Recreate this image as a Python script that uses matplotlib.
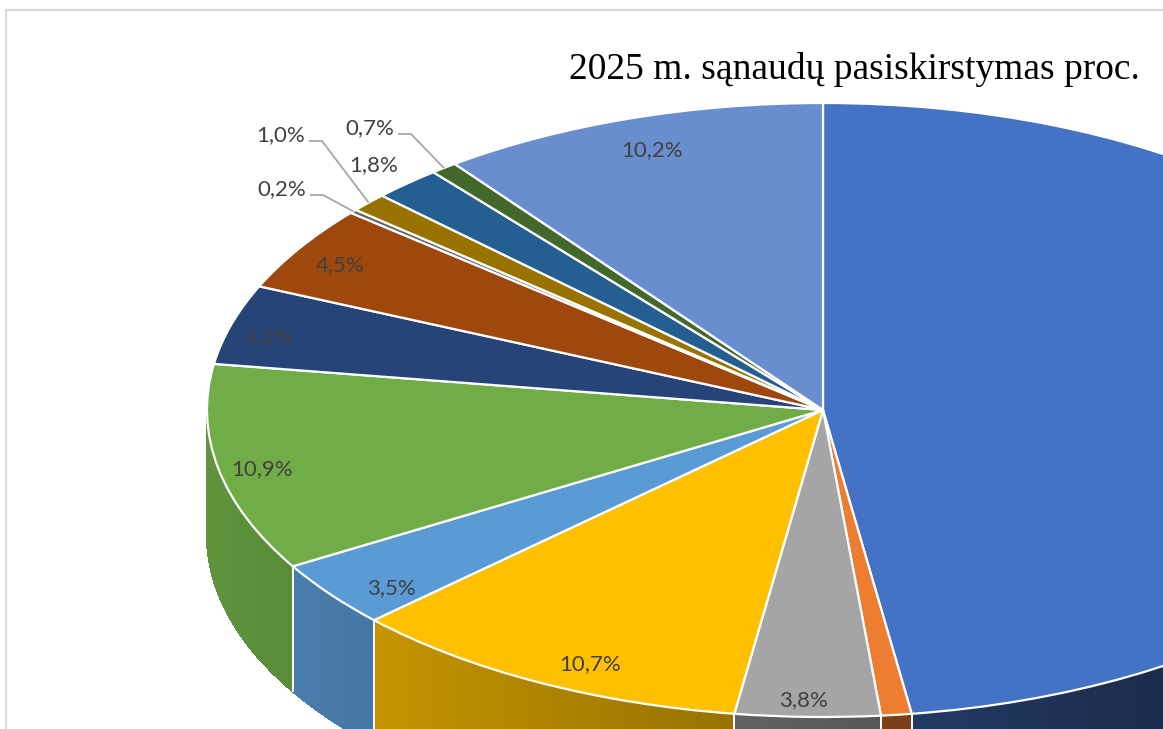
import numpy as np
import matplotlib
matplotlib.use("Agg")
import matplotlib.pyplot as plt
from matplotlib.patches import Polygon
from matplotlib.colors import to_rgb

# ---------------- data ----------------
title = "2025 m. sąnaudų pasiskirstymas proc."
shares = [47.7, 0.8, 3.8, 10.7, 3.5, 10.9, 4.2, 4.5, 0.2, 1.0, 1.8, 0.7, 10.2]
colors = ["#4472C4", "#ED7D31", "#A5A5A5", "#FFC000", "#5B9BD5", "#70AD47",
          "#264478", "#9E480E", "#636363", "#997300", "#255E91", "#43682B",
          "#698ED0"]

# ---------------- layout (pixels) ----------------
W, H = 1163, 729
cx, cy = 823, 410          # pie centre
rx, ry = 616, 307          # ellipse radii of top face
depth = 125                # side wall height
# slice index -> (radial factor, angular nudge in degrees)
inside_pos = {2: (0.945, 0.5), 3: (0.91, -3.0), 4: (0.91, -2.7), 5: (0.93, -0.9),
              6: (0.93, -1.4), 7: (0.915, -0.9), 10: (1.08, 0.0), 12: (0.89, 0.2)}
callout_pos = {8: (282, 189), 9: (281, 135), 11: (370, 128)}
label_font = dict(family="Lato", size=16, color="#404040")

fig = plt.figure(figsize=(W / 100, H / 100), dpi=100)
ax = fig.add_axes([0, 0, 1, 1])

def px2d(px, py):
    return (px - cx) / rx, (cy - py) / ry

# ---- top face via pie ----
wedges, _ = ax.pie(shares, colors=colors, startangle=90, counterclock=False,
                   radius=1, center=(0, 0),
                   wedgeprops=dict(edgecolor="white", linewidth=1.6))
for w in wedges:
    w.set_zorder(3)

# ---- side walls ----
D = depth / ry
total = float(sum(shares))
bounds = np.concatenate([[0.0], np.cumsum(shares)]) / total * 360.0
for i, (a0, a1) in enumerate(zip(bounds[:-1], bounds[1:])):
    lo, hi = max(a0, 90.0), min(a1, 270.0)
    if hi <= lo:
        continue
    n = max(2, int((hi - lo) / 0.4))
    ts = np.linspace(lo, hi, n + 1)
    base = np.array(to_rgb(colors[i]))
    # antialiased base wall (mid shade) for a smooth silhouette
    rr = np.radians(ts)
    tmid = np.radians((lo + hi) / 2)
    fb = 0.55 - 0.3 * np.sin(tmid)
    outline = list(zip(np.sin(rr), np.cos(rr) + 0.01)) + \
        list(zip(np.sin(rr[::-1]), np.cos(rr[::-1]) - D))
    ax.add_patch(Polygon(outline, closed=True, facecolor=np.clip(base * fb, 0, 1),
                         edgecolor="none", zorder=0.9))
    for t0, t1 in zip(ts[:-1], ts[1:]):
        tm = np.radians((t0 + t1) / 2)
        f = 0.55 - 0.3 * np.sin(tm)
        col = np.clip(base * f, 0, 1)
        r0, r1 = np.radians(t0), np.radians(t1)
        pts = [(np.sin(r0), np.cos(r0) + 0.01), (np.sin(r1), np.cos(r1) + 0.01),
               (np.sin(r1), np.cos(r1) - D), (np.sin(r0), np.cos(r0) - D)]
        ax.add_patch(Polygon(pts, closed=True, facecolor=col, edgecolor=col,
                             lw=0.8, antialiased=False, zorder=1))
for b in bounds:
    if 90 < b < 270:
        r = np.radians(b)
        ax.plot([np.sin(r), np.sin(r)], [np.cos(r), np.cos(r) - D],
                color="white", lw=1.4, zorder=2)

# ---- labels ----
def fmt(v):
    return f"{v:.1f}%".replace(".", ",")

mids = (bounds[:-1] + bounds[1:]) / 2
for i, (r, nudge) in inside_pos.items():
    t = np.radians(mids[i] + nudge)
    ax.text(r * np.sin(t), r * np.cos(t), fmt(shares[i]), ha="center",
            va="center", zorder=5, **label_font)

for i, (lx, ly) in callout_pos.items():
    x, y = px2d(lx, ly)
    ax.text(x, y, fmt(shares[i]), ha="center", va="center", zorder=5, **label_font)
    sx, sy = px2d(lx + 28, ly + 6)
    bx, by = px2d(lx + 41, ly + 6)
    t = np.radians(mids[i])
    ax.plot([sx, bx, np.sin(t)], [sy, by, np.cos(t)], color="#A6A6A6",
            lw=1.3, zorder=4, solid_capstyle="butt")

# ---- title ----
tx, ty = px2d(1140, 79)
ax.text(tx, ty, title, ha="right", va="baseline", family="Liberation Serif",
        size=27, color="black", zorder=6)

# ---- chart area border ----
bx0, by0 = px2d(5.5, 729)
bx1, by1 = px2d(5.5, 10.5)
bx2, _ = px2d(1163, 10.5)
ax.plot([bx0, bx1, bx2], [by0, by1, by1], color="#D9D9D9", lw=1.6, zorder=6)

ax.set_aspect("auto")
ax.set_xlim((0 - cx) / rx, (W - cx) / rx)
ax.set_ylim((cy - H) / ry, cy / ry)
ax.axis("off")

fig.savefig("out.png", dpi=100, facecolor="white")
